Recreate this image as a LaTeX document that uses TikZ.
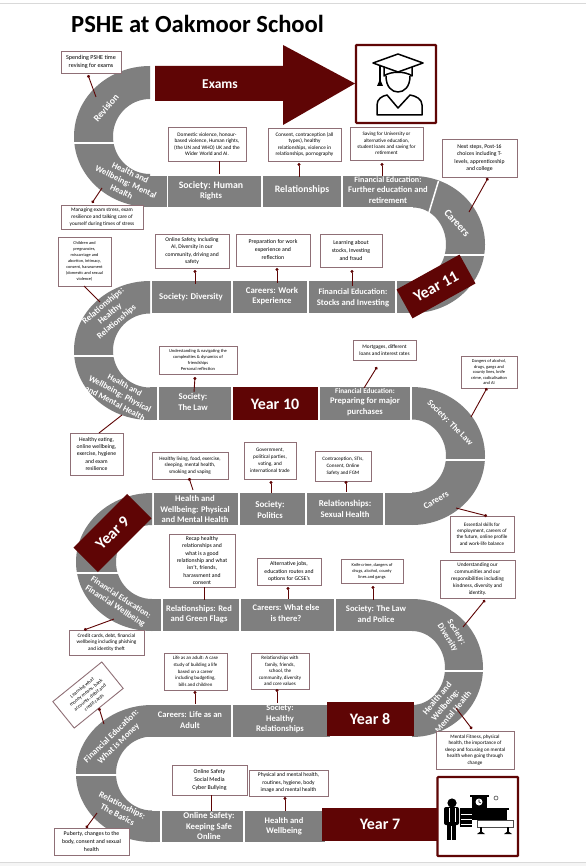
\documentclass[tikz,border=0pt]{standalone}
\usepackage{fontspec}
\setmainfont{Carlito}
\usetikzlibrary{arrows.meta}
\definecolor{wine}{HTML}{5F0505}
\definecolor{roadgrey}{HTML}{7F7F7F}
\definecolor{edgegrey}{HTML}{8F6F76}
\newcommand{\rs}[1]{\fontsize{#1}{10.4}\selectfont}
\tikzset{
  road/.style={fill=roadgrey,draw=none},
  cut/.style={draw=white,line width=1.5pt},
  roadtext/.style={text=white,font=\bfseries\fontsize{8.6}{10.4}\selectfont,align=center,inner sep=0pt},
  yeartext/.style={text=white,font=\bfseries\fontsize{16}{18}\selectfont,align=center,inner sep=0pt},
  callout/.style={draw=edgegrey,fill=white,line width=.9pt,align=center,inner sep=0pt,text=black},
  dotline/.style={draw=wine,line width=.9pt,{Circle[length=3pt]}-},
  plainline/.style={draw=wine,line width=.9pt},
  iconbox/.style={draw=wine,fill=white,line width=2.2pt,rounded corners=.8pt},
  ink/.style={draw=black,line width=1.5pt,fill=none,line join=round},
}
% half-ring of the road: side (-1 left, 1 right), centre, outer radii, inner radii
\newcommand{\roadbend}[7]{%
  \fill[road] (#2,{#3-#5}) .. controls ({#2+#1*.5523*#4},{#3-#5}) and ({#2+#1*#4},{#3-.5523*#5}) .. ({#2+#1*#4},#3)
     .. controls ({#2+#1*#4},{#3+.5523*#5}) and ({#2+#1*.5523*#4},{#3+#5}) .. (#2,{#3+#5})
     -- (#2,{#3+#7}) .. controls ({#2+#1*.5523*#6},{#3+#7}) and ({#2+#1*#6},{#3+.5523*#7}) .. ({#2+#1*#6},#3)
     .. controls ({#2+#1*#6},{#3-.5523*#7}) and ({#2+#1*.5523*#6},{#3-#7}) .. (#2,{#3-#7}) -- cycle;}
% straight road piece: name, x0,x1,y0,y1, text centre x,y, text
\newcommand{\seg}[8]{%
  \fill[road] (#2,#4) rectangle (#3,#5);
  \node[roadtext] (#1) at (#6,#7) {#8};}
% callout: name, x0,y0,x1,y1, size, leading, text
\newcommand{\callout}[8]{%
  \node[callout,minimum width={(#4-#2)*1pt},minimum height={(#5-#3)*1pt},font=\fontsize{#6}{#7}\selectfont]
    (#1) at ({(#2+#4)/2},{(#3+#5)/2}) {#8};}
\newcommand{\dotconn}[5]{%
  \coordinate (#1-a) at (#2,#3); \coordinate (#1-b) at (#4,#5);
  \draw[dotline] (#1-a) -- (#1-b);}
\newcommand{\plainconn}[5]{%
  \coordinate (#1-a) at (#2,#3); \coordinate (#1-b) at (#4,#5);
  \draw[plainline] (#1-a) -- (#1-b);}
\begin{document}
\begin{tikzpicture}[x=1pt,y=-1pt]
\useasboundingbox (0,0) rectangle (586,866);
\fill[white] (0,0) rectangle (586,866);
\draw[draw=black!15,line width=1pt] (0,3.5) -- (586,3.5);
\fill[black!4] (0,862) rectangle (586,866);
\draw[draw=black!15,line width=1pt] (0,862.5) -- (586,862.5);

\node[font=\fontsize{24.6}{28}\selectfont\bfseries,inner sep=0pt,anchor=west] (title) at (71,24) {PSHE at Oakmoor School};

% road bends
\roadbend{-1}{150}{136.5}{76}{70.5}{37}{37.5}
\roadbend{1}{413}{244.5}{72}{68.5}{33}{37}
\roadbend{-1}{150}{350.5}{76}{69.5}{37}{37}
\roadbend{1}{412}{456}{73}{69}{34}{36.5}
\roadbend{-1}{152}{562}{76}{69}{36}{37}
\roadbend{1}{412}{668}{71}{69}{33}{37}
\roadbend{-1}{152}{773.5}{76}{68.5}{36}{37}

% cuts across the bends
\draw[cut] (72,143) -- (115,143);
\draw[cut] (438.5,181) -- (428.5,214);
\draw[cut] (444,255) -- (488,255);
\draw[cut] (71,356) -- (116,356);
\draw[cut] (444,460) -- (488,460);
\draw[cut] (74,573) -- (118,573);
\draw[cut] (444,671) -- (486,671);
\draw[cut] (74,775) -- (118,775);

% row A
\fill[road] (150,176) rectangle (166.5,207);
\seg{humanrights}{168}{261}{176}{207}{211}{190.5}{\rs{9.8}Society: Human\\Rights}
\seg{relA}{263}{341}{176}{207}{302}{190}{\rs{9.8}Relationships}
\seg{finretire}{343}{414}{176}{207}{388}{190}{\rs{8.1}Financial Education:\\Further education and\\retirement}
% row B
\seg{diversity}{152}{231}{281}{313}{191}{297}{\rs{8.8}Society:  Diversity}
\seg{workexp}{233}{307}{281}{313}{272}{296}{\rs{8.8}Careers: Work\\Experience}
\seg{stocks}{309}{395}{281}{313}{353}{298}{\rs{8.3}Financial Education:\\Stocks and Investing}
\fill[road] (397,281) rectangle (414,313);
% row C
\fill[road] (150,387) rectangle (157,420);
\seg{lawC}{159}{231}{387}{420}{193}{402}{\rs{8.8}Society:\\The Law}
\fill[wine] (233,387) rectangle (318,420);
\node[yeartext] (y10) at (275,404) {Year 10};
\seg{majorpurch}{320}{410}{387}{420}{365}{402}{\fontsize{7.2}{9}\selectfont Financial Education:\\Preparing for major\\purchases}
% row D
\fill[road] (385,493) rectangle (412,525);
\seg{sexhealth}{307}{383}{493}{525}{345}{509}{\rs{9}Relationships:\\Sexual Health}
\seg{politics}{240}{305}{493}{525}{270}{510}{\rs{9}Society:\\Politics}
\seg{physD}{154}{238}{493}{525}{195}{509}{\rs{8.7}Health and\\Wellbeing: Physical\\and Mental Health}
% row E
\fill[road] (152,599) rectangle (161,631);
\seg{flags}{163}{239}{599}{631}{199}{614}{\rs{8.5}Relationships: Red\\and Green Flags}
\seg{whatelse}{241}{334}{599}{631}{286}{613}{\rs{8.5}Careers: What else\\is there?}
\seg{police}{336}{413}{599}{631}{376}{614}{\rs{8.6}Society: The Law\\and Police}
% row F
\seg{lifeadult}{148}{231}{705}{737}{190}{720}{\rs{8.5}Careers: Life as an\\Adult}
\seg{healthyrel}{233}{330}{705}{737}{280}{719}{\rs{8.3}Society:\\Healthy\\Relationships}
\fill[wine] (327,702) rectangle (414,736);
\node[yeartext] (y8) at (370,719) {Year 8};
% row G
\fill[road] (152,811) rectangle (160,842);
\seg{keepsafe}{162}{243}{811}{842}{209}{826}{\rs{8.8}Online Safety:\\Keeping Safe\\Online}
\seg{healthG}{245}{325}{811}{842}{284}{826}{\rs{8.5}Health and\\Wellbeing}
\fill[wine] (322,808) rectangle (439,841);
\node[yeartext] (y7) at (380,824) {Year 7};

% text on the bends
\node[roadtext,rotate=50] (revision) at (106,108) {\rs{9.6}Revision};
\node[roadtext,rotate=-25] (mentalA) at (126,182) {\rs{8.6}Health and\\Wellbeing: Mental\\Health};
\node[roadtext,rotate=-48] (careersA) at (457,223) {\rs{10.5}Careers};
\node[roadtext,rotate=40] (healthyB) at (110,314) {\rs{8.8}Relationships:\\Healthy\\Relationships};
\node[roadtext,rotate=-28] (physC) at (120,394) {\rs{8.2}Health and\\Wellbeing: Physical\\and Mental Health};
\node[roadtext,rotate=-45] (lawarc) at (450,423) {\rs{8.7}Society: The Law};
\node[roadtext,rotate=30] (careersD) at (436,500) {\rs{8.8}Careers};
\node[roadtext,rotate=-33] (finwell) at (118,602) {\rs{8.4}Financial Education:\\Financial Wellbeing};
\node[roadtext,rotate=-58] (divarc) at (452,635) {\rs{8.5}Society:\\Diversity};
\node[roadtext,rotate=50] (mentalF) at (445,705) {\rs{8.8}Health and\\Wellbeing:\\Mental Health};
\node[roadtext,rotate=44] (money) at (115,740) {\rs{8.7}Financial Education:\\What is Money};
\node[roadtext,rotate=-27] (basics) at (120,810) {\rs{8.7}Relationships:\\The Basics};

% exams arrow
\fill[wine] (155,66) -- (283,66) -- (283,45) -- (355,83.5) -- (283,125) -- (283,101) -- (155,101) -- cycle;
\node[roadtext,font=\bfseries\fontsize{13.5}{15}\selectfont] (exams) at (220,84) {Exams};

% year boxes
\node[fill=wine,minimum width=72pt,minimum height=33pt,inner sep=0pt,rotate=29,yeartext] (y11) at (436,286.5) {Year 11};
\node[fill=wine,minimum width=76pt,minimum height=34.5pt,inner sep=0pt,rotate=45,yeartext] (y9) at (112.5,533) {Year 9};

% graduate icon
\draw[iconbox] (356,45) rectangle (436,123);
\draw[ink] (373,63) -- (398,54) -- (423,63) -- (398,72) -- cycle;
\draw[ink] (384,67) -- (384,76) .. controls (390,71) and (406,71) .. (412,76) -- (412,67);
\draw[ink] (386,76) .. controls (386,87) and (392,92) .. (398,92) .. controls (404,92) and (410,87) .. (410,76);
\draw[line width=1.1pt] (380,65) -- (380,83);
\fill (377,86) -- (380,79) -- (383,86) -- cycle;
\draw[ink] (377,115) -- (377,105) .. controls (377,99) and (382,96) .. (387,95) -- (398,108) -- (410,95) .. controls (416,96) and (422,99) .. (422,105) -- (422,115) -- cycle;

% school icon
\draw[iconbox] (437.5,777) rectangle (518,856);
\fill (452,803) circle (4.6pt);
\fill[rounded corners=2pt] (444,807) rectangle (459,825);
\fill (447,824) rectangle (456,840);
\draw[white,line width=.6pt] (451.5,826) -- (451.5,840) (449,808) -- (449,822) (455,808) -- (455,822);
\fill (472,796) rectangle (487,820);
\fill (470,795) rectangle (489,797);
\fill[white] (479,802) circle (3.5pt);
\draw[line width=.6pt] (479,799.5) -- (479,802) -- (481,803);
\fill (460,808) rectangle (472,827);
\draw[white,line width=.8pt] (461,814) -- (472,814) (461,819) -- (472,819) (461,824) -- (472,824);
\fill (487,809) rectangle (507,820);
\fill (486,808) rectangle (509,810);
\draw[black!70,line width=.6pt] (496,798) circle (2pt);
\draw[fill=white,draw=black!70,line width=.7pt] (477,820) rectangle (513,827);
\fill (480,827) rectangle (482,832);
\fill (507,827) rectangle (509,832);
\fill (477,834) -- (481,831) -- (485,834) -- cycle;
\fill (504,834) -- (508,831) -- (512,834) -- cycle;

% callouts
\callout{cSpend}{61}{51}{121}{73}{6.1}{7.8}{Spending PSHE time\\revising for exams}
\dotconn{kSpend}{88}{75}{96}{97}
\callout{cDom}{168}{127}{246}{161}{5.3}{6.4}{Domestic violence, honour-\\based violence, Human rights,\\(the UN and WHO) UK and the\\Wider World and AI.}
\plainconn{kDom}{219}{161}{219}{174}
\callout{cCons}{268}{128}{341}{161}{5.3}{6.5}{Consent, contraception (all\\types), healthy\\relationships, violence in\\relationships, pornography}
\dotconn{kCons}{299}{163}{299}{177}
\callout{cSave}{350}{127}{423}{160}{5.1}{6.2}{Saving for University or\\alternative education,\\student loans and saving for\\retirement}
\dotconn{kSave}{382}{163}{382}{176}
\callout{cNext}{442}{139}{517}{177}{5.7}{7.6}{Next steps, Post-16\\choices including T-\\levels,  apprenticeship\\and college}
\dotconn{kNext}{488}{178}{469}{212}
\callout{cStress}{61}{205}{143}{229}{5.3}{6.8}{Managing exam stress, exam\\resilience and talking care of\\yourself during times of stress}
\dotconn{kStress}{92}{203}{102}{188}
\callout{cChild}{58}{237}{111}{286}{4.3}{6}{Children and\\pregnancies,\\miscarriage and\\abortion, Intimacy,\\consent, harassment\\(domestic and sexual\\violence)}
\plainconn{kChild}{84}{286}{100}{302}
\callout{cOnline}{155}{234}{229}{268}{5.6}{7.4}{Online Safety, Including\\AI, Diversity in our\\community, driving and\\safety}
\dotconn{kOnline}{195}{270}{195}{284}
\callout{cPrep}{236}{234}{310}{266}{5.8}{8}{Preparation for work\\experience and\\reflection}
\dotconn{kPrep}{277}{268}{277}{283}
\callout{cStock}{320}{234}{382}{267}{5.8}{8}{Learning about\\stocks, Investing\\and fraud}
\dotconn{kStock}{352}{270}{352}{286}
\callout{cFriend}{159}{346}{237}{374}{4.5}{5.8}{Understanding \& navigating the\\complexities \& dynamics of\\friendships\\Personal reflection}
\dotconn{kFriend}{195}{377}{194}{392}
\callout{cMort}{353}{340}{416}{360}{5.3}{6.8}{Mortgages, different\\loans and interest rates}
\dotconn{kMort}{377}{367}{364}{388}
\callout{cDang}{461}{356}{517}{388}{4.4}{5.5}{Dangers of alcohol,\\drugs, gangs and\\county lines, knife\\crime, radicalisation\\and AI}
\dotconn{kDang}{487}{388}{471}{417}
\callout{cEat}{70}{433}{123}{475}{5.7}{7.3}{Healthy eating,\\online wellbeing,\\exercise, hygiene\\and exam\\resilience}
\plainconn{kEat}{99}{433}{122}{415}
\callout{cLiving}{152}{452}{228}{479}{5.2}{6.8}{Healthy living, food, exercise,\\sleeping, mental health,\\smoking and vaping}
\dotconn{kLiving}{189}{478}{193}{490}
\callout{cGov}{244}{442}{296}{479}{5.2}{6.8}{Government,\\political parties,\\voting, and\\international trade}
\dotconn{kGov}{271}{481}{271}{493}
\callout{cSTI}{315}{451}{371}{481}{5.1}{6.8}{Contraception, STIs,\\Consent, Online\\Safety and FGM}
\dotconn{kSTI}{346}{481}{346}{492}
\callout{cSkill}{450}{516}{514}{552}{5.1}{6.2}{Essential skills for\\employment, careers of\\the future, online profile\\and work-life balance}
\dotconn{kSkill}{487}{516}{456}{508}
\callout{cRecap}{169}{534}{235}{587}{5.7}{7.4}{Recap healthy\\relationships and\\what is a good\\relationship and what\\isn't, friends,\\harassment and\\consent}
\plainconn{kRecap}{204}{587}{204}{600}
\callout{cAlt}{257}{558}{321}{585}{5.7}{7.8}{Alternative jobs,\\education routes and\\options for GCSE's}
\dotconn{kAlt}{288}{587}{288}{599}
\callout{cKnife}{341}{559}{403}{583}{4.4}{6}{Knife crime, dangers of\\drugs, alcohol, county\\lines and  gangs}
\dotconn{kKnife}{373}{586}{373}{600}
\callout{cComm}{440}{560}{515}{598}{5.3}{6.8}{Understanding our\\communities and our\\responsibilities including\\kindness, diversity and\\identity.}
\dotconn{kComm}{485}{600}{463}{627}
\callout{cCredit}{69}{630}{144}{655}{5.2}{6.4}{Credit cards, debt, financial\\wellbeing including phishing\\and identity theft}
\dotconn{kCredit}{84}{630}{114}{619}
\node[callout,minimum width=63pt,minimum height=34pt,rotate=39,font=\fontsize{5}{6.3}\selectfont] (cLearn) at (88,695) {Learning what\\money means, bank\\accounts, debit and\\credit cards};
\dotconn{kLearn}{99}{708}{104}{724}
\callout{cLife}{164}{653}{227}{690}{4.9}{6.7}{Life as an adult: A case\\study of building a life\\based on a career\\including budgeting,\\bills and children}
\dotconn{kLife}{195}{691}{195}{704}
\callout{cFam}{251}{653}{309}{689}{5}{6.4}{Relationships with\\family, friends,\\school, the\\community, diversity\\and core values}
\dotconn{kFam}{277}{689}{277}{703}
\callout{cFit}{436}{731}{514}{769}{5.1}{6.5}{Mental Fitness, physical\\health, the importance of\\sleep and focusing on mental\\health when going through\\change}
\dotconn{kFit}{472}{729}{456}{708}
\callout{cSafe}{172}{765}{247}{795}{5.9}{7.7}{Online Safety\\Social Media\\Cyber Bullying}
\plainconn{kSafe}{211}{795}{211}{811}
\callout{cPhys}{249}{770}{328}{796}{5.5}{7.5}{Physical and mental health,\\routines, hygiene, body\\image and mental health}
\dotconn{kPhys}{285}{797}{285}{811}
\callout{cPub}{54}{828}{129}{855}{5.8}{8}{Puberty, changes to the\\body, consent and sexual\\health}
\dotconn{kPub}{86}{828}{97}{813}
\end{tikzpicture}
\end{document}
